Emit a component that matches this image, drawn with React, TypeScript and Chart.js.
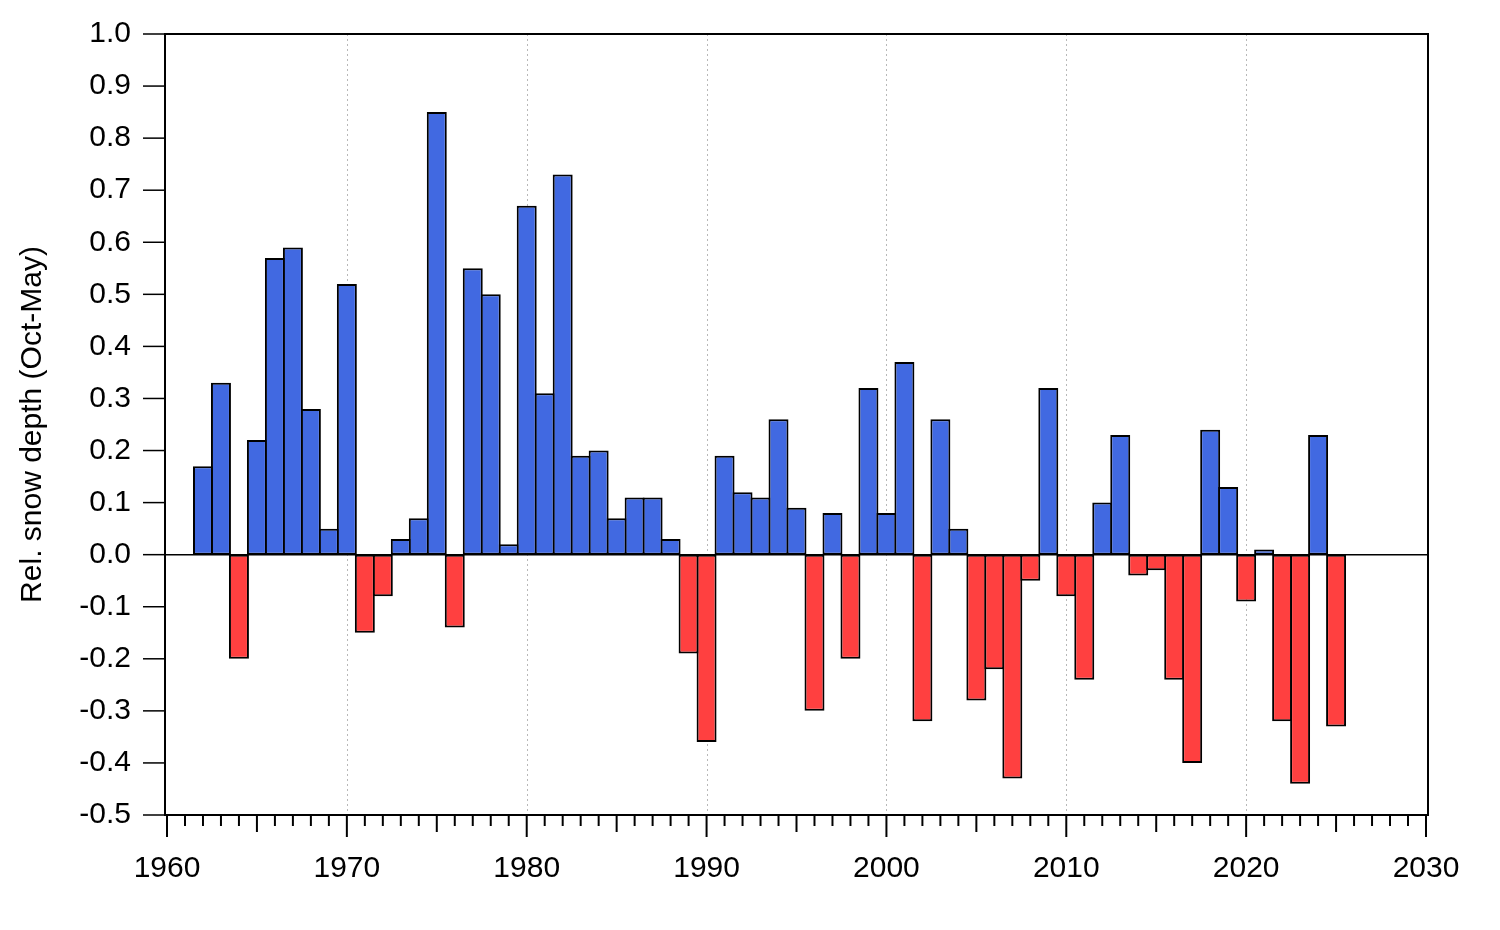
import React, { useEffect, useRef } from 'react';
import { Chart, registerables } from 'chart.js';

Chart.register(...registerables);

// ---- data ----
const years = [
  1962, 1963, 1964, 1965, 1966, 1967, 1968, 1969, 1970, 1971,
  1972, 1973, 1974, 1975, 1976, 1977, 1978, 1979, 1980, 1981,
  1982, 1983, 1984, 1985, 1986, 1987, 1988, 1989, 1990, 1991,
  1992, 1993, 1994, 1995, 1996, 1997, 1998, 1999, 2000, 2001,
  2002, 2003, 2004, 2005, 2006, 2007, 2008, 2009, 2010, 2011,
  2012, 2013, 2014, 2015, 2016, 2017, 2018, 2019, 2020, 2021,
  2022, 2023, 2024, 2025,
];

const snowDepth = [
  0.17, 0.33, -0.20, 0.22, 0.57, 0.59, 0.28, 0.05, 0.52, -0.15,
  -0.08, 0.03, 0.07, 0.85, -0.14, 0.55, 0.50, 0.02, 0.67, 0.31,
  0.73, 0.19, 0.20, 0.07, 0.11, 0.11, 0.03, -0.19, -0.36, 0.19,
  0.12, 0.11, 0.26, 0.09, -0.30, 0.08, -0.20, 0.32, 0.08, 0.37,
  -0.32, 0.26, 0.05, -0.28, -0.22, -0.43, -0.05, 0.32, -0.08, -0.24,
  0.10, 0.23, -0.04, -0.03, -0.24, -0.40, 0.24, 0.13, -0.09, 0.01,
  -0.32, -0.44, 0.23, -0.33,
];

const xTickLabels = [1960, 1970, 1980, 1990, 2000, 2010, 2020, 2030];
const yTickValues = [-0.5, -0.4, -0.3, -0.2, -0.1, 0.0, 0.1, 0.2, 0.3, 0.4, 0.5, 0.6, 0.7, 0.8, 0.9, 1.0];
const yAxisTitle = 'Rel. snow depth (Oct-May)';

// ---- styles ----
const BLUE = '#4169E1';
const RED = '#FF4040';
const FONT = { family: "'Liberation Sans', Arial, sans-serif", size: 30 };
const BAR_BORDER = 2;

const framePlugin = {
  id: 'frameAndTicks',
  beforeDatasetsDraw(chart: any) {
    const { ctx, chartArea } = chart;
    const xs = chart.scales.x;
    ctx.save();
    ctx.strokeStyle = '#b8b8b8';
    ctx.lineWidth = 1;
    ctx.setLineDash([2, 3]);
    for (const v of xTickLabels) {
      if (v <= xs.min || v >= xs.max) continue;
      const px = Math.round(xs.getPixelForValue(v)) + 0.5;
      ctx.beginPath();
      ctx.moveTo(px, chartArea.top);
      ctx.lineTo(px, chartArea.bottom);
      ctx.stroke();
    }
    ctx.restore();
  },
  afterDatasetsDraw(chart: any) {
    const { ctx, chartArea } = chart;
    const xs = chart.scales.x;
    const ys = chart.scales.y;
    const left = chartArea.left - 2;
    const right = chartArea.right + 2;
    const top = chartArea.top;
    const bottom = chartArea.bottom;
    ctx.save();
    ctx.setLineDash([]);
    ctx.strokeStyle = '#000';
    // zero line
    ctx.lineWidth = 1.5;
    const y0 = ys.getPixelForValue(0);
    ctx.beginPath();
    ctx.moveTo(left, y0);
    ctx.lineTo(right, y0);
    ctx.stroke();
    // frame
    ctx.lineWidth = 2;
    ctx.strokeRect(left, top, right - left, bottom - top);
    // y ticks
    ctx.lineWidth = 1.5;
    for (const v of yTickValues) {
      const py = ys.getPixelForValue(v);
      ctx.beginPath();
      ctx.moveTo(left - 22, py);
      ctx.lineTo(left, py);
      ctx.stroke();
    }
    // x ticks (yearly minor, 5-year medium, decade major)
    ctx.lineWidth = 2;
    for (let yr = Math.round(xs.min); yr <= Math.round(xs.max); yr++) {
      const px = xs.getPixelForValue(yr);
      const len = yr % 10 === 0 ? 22 : yr % 5 === 0 ? 17 : 11;
      ctx.beginPath();
      ctx.moveTo(px, bottom);
      ctx.lineTo(px, bottom + len);
      ctx.stroke();
    }
    ctx.restore();
  },
};

export default function App() {
  const canvasRef = useRef<HTMLCanvasElement | null>(null);

  useEffect(() => {
    const canvas = canvasRef.current;
    if (!canvas) return;
    const chart = new Chart(canvas, {
      type: 'bar',
      data: {
        datasets: [
          {
            data: years.map((yr, i) => ({ x: yr, y: snowDepth[i] })),
            backgroundColor: (c: any) => (c.raw && c.raw.y >= 0 ? BLUE : RED),
            borderColor: '#000',
            borderWidth: BAR_BORDER,
            borderSkipped: false,
            barPercentage: (18 + BAR_BORDER) / 18,
            categoryPercentage: 1,
          } as any,
        ],
      },
      options: {
        responsive: false,
        animation: false,
        devicePixelRatio: 1,
        layout: { padding: { left: 0, right: 74, top: 34, bottom: 0 } },
        plugins: { legend: { display: false }, tooltip: { enabled: false } },
        scales: {
          x: {
            type: 'linear',
            min: 1960,
            max: 2030,
            offset: false,
            grid: { display: false, drawTicks: false },
            border: { display: false },
            afterBuildTicks: (s: any) => {
              s.ticks = xTickLabels.map((v) => ({ value: v }));
            },
            afterFit: (s: any) => {
              s.height = 115;
              s.paddingLeft = 0;
              s.paddingRight = 0;
            },
            ticks: {
              padding: 36,
              autoSkip: false,
              maxRotation: 0,
              color: '#000',
              font: FONT,
              callback: (v: any) => String(v),
            },
          },
          y: {
            type: 'linear',
            min: -0.5,
            max: 1.0,
            grid: { display: false, drawTicks: false },
            border: { display: false },
            afterBuildTicks: (s: any) => {
              s.ticks = yTickValues.map((v) => ({ value: v }));
            },
            afterFit: (s: any) => {
              s.width = 167;
              s.paddingTop = 0;
              s.paddingBottom = 0;
            },
            ticks: {
              padding: 36,
              color: '#000',
              font: FONT,
              callback: (v: any) => Number(v).toFixed(1),
            },
            title: {
              display: true,
              text: yAxisTitle,
              color: '#000',
              font: FONT,
              padding: { top: 15, bottom: 0 },
            },
          },
        },
      } as any,
      plugins: [framePlugin],
    });
    return () => chart.destroy();
  }, []);

  return (
    <div style={{ position: 'absolute', left: 0, top: 0, width: 1500, height: 930, background: '#fff' }}>
      <canvas ref={canvasRef} width={1500} height={930} style={{ display: 'block' }} />
    </div>
  );
}
